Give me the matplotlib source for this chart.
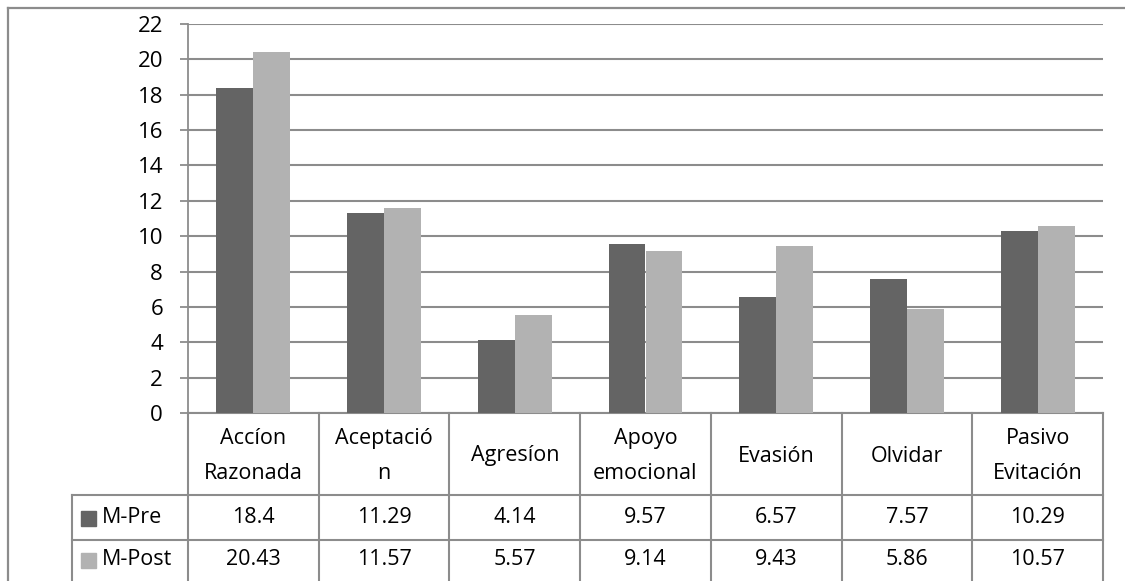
import matplotlib.pyplot as plt
import numpy as np
from matplotlib.patches import Rectangle

plt.rcParams['font.family'] = ['Open Sans', 'DejaVu Sans']

# categories and the two series
categories = ['Accíon\nRazonada', 'Aceptació\nn', 'Agresíon', 'Apoyo\nemocional',
              'Evasión', 'Olvidar', 'Pasivo\nEvitación']
series_names = ['M-Pre', 'M-Post']
m_pre = [18.4, 11.29, 4.14, 9.57, 6.57, 7.57, 10.29]
m_post = [20.43, 11.57, 5.57, 9.14, 9.43, 5.86, 10.57]
yticks = list(range(0, 23, 2))

colors = ['#646464', '#b2b2b2']
line_col = '#8c8c8c'
W, H = 1125, 581
fs = 15.5

fig = plt.figure(figsize=(W / 100, H / 100), dpi=100)

# pixel-space overlay for the frame and table
ov = fig.add_axes([0, 0, 1, 1])
ov.set_xlim(0, W)
ov.set_ylim(H, 0)
ov.axis('off')

# plot area
x0, x1, ytop, ybot = 188, 1103, 24, 413
ax = fig.add_axes([x0 / W, 1 - ybot / H, (x1 - x0) / W, (ybot - ytop) / H])
x = np.arange(len(categories))
bw = 0.283
ax.bar(x - bw / 2, m_pre, bw, color=colors[0], zorder=3)
ax.bar(x + bw / 2, m_post, bw, color=colors[1], zorder=3)
ax.set_xlim(-0.5, len(categories) - 0.5)
ax.set_ylim(0, 22)
ax.set_yticks(yticks)
ax.set_xticks([])
ax.tick_params(axis='y', length=6, width=1.3, color=line_col, labelsize=fs + 0.5, pad=12)
ax.grid(axis='y', color=line_col, lw=1.5, zorder=0)
for s in ['top', 'right', 'bottom']:
    ax.spines[s].set_visible(False)
ax.spines['left'].set_color(line_col)
ax.spines['left'].set_linewidth(1.3)
ax.patch.set_alpha(0)

# outer chart border
ov.plot([8, 8], [H, 8], color=line_col, lw=1.6)
ov.plot([8, W], [8, 8], color=line_col, lw=1.6)

# table under the axis
colw = (x1 - x0) / len(categories)
row_cat, row_a, row_b = 413, 495, 540
tl = 72
ov.plot([x0, x1], [row_cat, row_cat], color=line_col, lw=1.5)
ov.plot([tl, x1], [row_a, row_a], color=line_col, lw=1.5)
ov.plot([tl, x1], [row_b, row_b], color=line_col, lw=1.5)
ov.plot([tl, tl], [row_a, H], color=line_col, lw=1.5)
for i in range(len(categories) + 1):
    xb = x0 + i * colw
    ov.plot([xb, xb], [row_cat, H], color=line_col, lw=1.5)

for i, cat in enumerate(categories):
    cx = x0 + (i + 0.5) * colw
    ov.text(cx, (row_cat + row_a) / 2 + 2, cat, ha='center', va='center',
            fontsize=fs, linespacing=1.85)
    ov.text(cx, (row_a + row_b) / 2, f'{m_pre[i]:g}', ha='center', va='center', fontsize=fs)
    ov.text(cx, (row_b + H) / 2 - 1, f'{m_post[i]:g}', ha='center', va='center', fontsize=fs)

for name, col, yc in zip(series_names, colors, [(row_a + row_b) / 2, (row_b + H) / 2 - 1]):
    ov.add_patch(Rectangle((81, yc - 7), 15, 15, color=col))
    ov.text(102, yc, name, ha='left', va='center', fontsize=fs)

fig.savefig('out.png', dpi=100)
